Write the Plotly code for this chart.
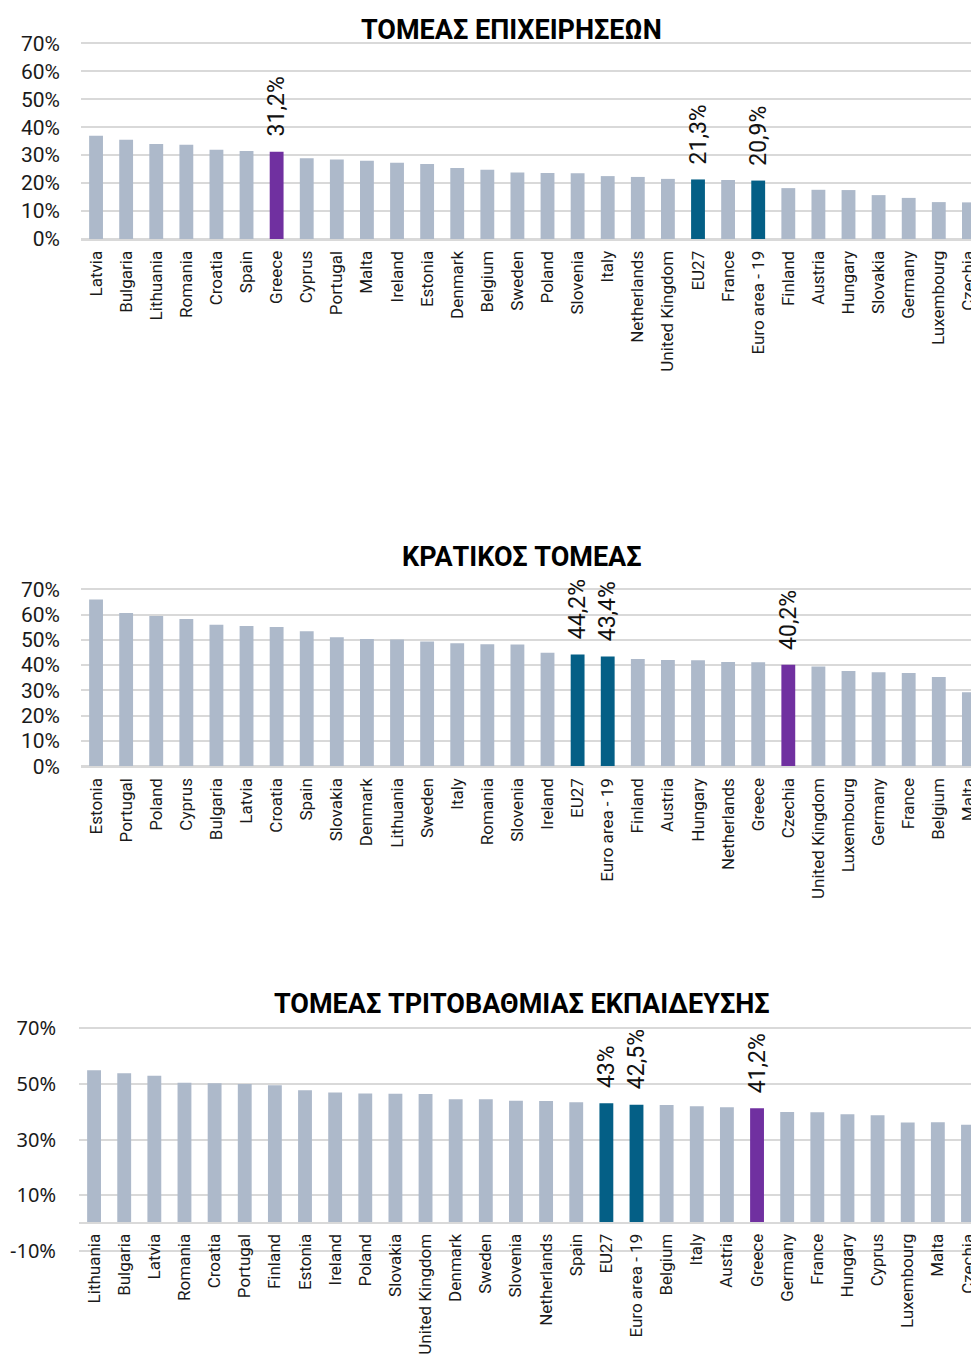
import plotly.graph_objects as go

# ---------------- data ----------------
titles = ["ΤΟΜΕΑΣ ΕΠΙΧΕΙΡΗΣΕΩΝ", "ΚΡΑΤΙΚΟΣ ΤΟΜΕΑΣ", "ΤΟΜΕΑΣ ΤΡΙΤΟΒΑΘΜΙΑΣ ΕΚΠΑΙΔΕΥΣΗΣ"]

business_countries = ["Latvia", "Bulgaria", "Lithuania", "Romania", "Croatia", "Spain", "Greece",
                      "Cyprus", "Portugal", "Malta", "Ireland", "Estonia", "Denmark", "Belgium",
                      "Sweden", "Poland", "Slovenia", "Italy", "Netherlands", "United Kingdom",
                      "EU27", "France", "Euro area - 19", "Finland", "Austria", "Hungary",
                      "Slovakia", "Germany", "Luxembourg", "Czechia"]
business_values = [36.9, 35.5, 34.0, 33.7, 31.9, 31.5, 31.2, 28.9, 28.4, 28.0, 27.3, 26.8, 25.4, 24.8,
                   23.8, 23.6, 23.5, 22.5, 22.2, 21.5, 21.3, 21.1, 20.9, 18.2, 17.6, 17.5, 15.7,
                   14.7, 13.2, 13.1]
business_purple = ["Greece"]

government_countries = ["Estonia", "Portugal", "Poland", "Cyprus", "Bulgaria", "Latvia", "Croatia",
                        "Spain", "Slovakia", "Denmark", "Lithuania", "Sweden", "Italy", "Romania",
                        "Slovenia", "Ireland", "EU27", "Euro area - 19", "Finland", "Austria",
                        "Hungary", "Netherlands", "Greece", "Czechia", "United Kingdom",
                        "Luxembourg", "Germany", "France", "Belgium", "Malta"]
government_values = [66.0, 60.6, 59.4, 58.2, 56.0, 55.5, 55.1, 53.4, 51.0, 50.3, 50.1, 49.3, 48.7,
                     48.3, 48.2, 44.9, 44.2, 43.4, 42.4, 42.0, 41.9, 41.2, 41.1, 40.2, 39.5, 37.7,
                     37.2, 36.9, 35.3, 29.3]
government_purple = ["Czechia"]

higher_ed_countries = ["Lithuania", "Bulgaria", "Latvia", "Romania", "Croatia", "Portugal", "Finland",
                       "Estonia", "Ireland", "Poland", "Slovakia", "United Kingdom", "Denmark",
                       "Sweden", "Slovenia", "Netherlands", "Spain", "EU27", "Euro area - 19",
                       "Belgium", "Italy", "Austria", "Greece", "Germany", "France", "Hungary",
                       "Cyprus", "Luxembourg", "Malta", "Czechia"]
higher_ed_values = [54.8, 53.8, 52.9, 50.4, 50.2, 49.9, 49.5, 47.7, 46.9, 46.5, 46.4, 46.3, 44.4,
                    44.4, 43.9, 43.8, 43.4, 43.0, 42.5, 42.4, 41.9, 41.6, 41.2, 39.9, 39.8, 39.1,
                    38.7, 36.1, 36.2, 35.3]
higher_ed_purple = ["Greece"]

blue_highlight = ["EU27", "Euro area - 19"]

y_ticks_top = [0, 10, 20, 30, 40, 50, 60, 70]
y_ticktext_top = ["0%", "10%", "20%", "30%", "40%", "50%", "60%", "70%"]
y_ticks_bottom = [-10, 10, 30, 50, 70]
y_ticktext_bottom = ["-10%", "10%", "30%", "50%", "70%"]

# ---------------- style ----------------
GREY = "#ADB9CA"
PURPLE = "#7030A0"
BLUE = "#045F86"
GRID = "#D9D9D9"
W, H = 971, 1354


def py(px):
    return 1 - px / H


def colors_for(cats, purple):
    out = []
    for c in cats:
        if c in purple:
            out.append(PURPLE)
        elif c in blue_highlight:
            out.append(BLUE)
        else:
            out.append(GREY)
    return out


def fmt(v):
    return f"{v:g}".replace(".", ",") + "%"


panels = [
    dict(cats=business_countries, vals=business_values, purple=business_purple,
         xdom=[81 / W, 1], ydom=[py(239), py(41.9)], yrange=[0, 70.5],
         xrange=[-0.5, 29.07], title_x=511.5, title_y=30),
    dict(cats=government_countries, vals=government_values, purple=government_purple,
         xdom=[81 / W, 1], ydom=[py(766.3), py(588.0)], yrange=[0, 70.5],
         xrange=[-0.5, 29.07], title_x=521.5, title_y=557),
    dict(cats=higher_ed_countries, vals=higher_ed_values, purple=higher_ed_purple,
         xdom=[79 / W, 1], ydom=[py(1252.4), py(1026.6)], yrange=[-10.5, 70.5],
         xrange=[-0.5, 29.10], title_x=522, title_y=1004),
]

fig = go.Figure()
annotations = []
layout = {}

for i, p in enumerate(panels, start=1):
    xa = "x" if i == 1 else f"x{i}"
    ya = "y" if i == 1 else f"y{i}"
    xkey = "xaxis" if i == 1 else f"xaxis{i}"
    ykey = "yaxis" if i == 1 else f"yaxis{i}"
    cols = colors_for(p["cats"], p["purple"])
    fig.add_trace(go.Bar(x=p["cats"], y=p["vals"], xaxis=xa, yaxis=ya,
                         marker=dict(color=cols, line=dict(width=0)),
                         width=0.46, showlegend=False, hoverinfo="x+y"))
    # data labels for highlighted bars
    for c, v in zip(p["cats"], p["vals"]):
        if c in p["purple"] or c in blue_highlight:
            annotations.append(dict(x=c, y=v, xref=xa, yref=ya, text=fmt(v),
                                    textangle=-90, showarrow=False, yanchor="bottom",
                                    xanchor="center", yshift=13,
                                    font=dict(family="Roboto", size=23, color="#111111")))
    annotations.append(dict(x=p["title_x"] / W, y=py(p["title_y"]), xref="paper", yref="paper",
                            text=titles[i - 1], showarrow=False, xanchor="center",
                            yanchor="middle",
                            font=dict(family="Roboto", size=27, color="#000000", weight="bold")))

    xaxis = dict(domain=p["xdom"], range=p["xrange"], type="category", anchor=ya,
                 tickangle=-90, showgrid=False, showline=True, linecolor=GRID, linewidth=2,
                 ticks="", ticklabelstandoff=3, automargin=False,
                 tickfont=dict(family="Roboto", size=17, color="#1a1a1a"), fixedrange=True)
    if i == 3:
        xaxis.update(anchor="free", position=py(1223))
        yaxis = dict(domain=p["ydom"], range=p["yrange"], anchor=xa,
                     tickvals=y_ticks_bottom, ticktext=y_ticktext_bottom,
                     showgrid=True, gridcolor=GRID, gridwidth=2,
                     zeroline=True, zerolinecolor=GRID, zerolinewidth=2,
                     showline=False, ticks="", ticklabelstandoff=22, automargin=False,
                     tickfont=dict(family="Noto Sans", size=20, color="#1a1a1a"), fixedrange=True)
    else:
        yaxis = dict(domain=p["ydom"], range=p["yrange"], anchor=xa,
                     tickvals=y_ticks_top, ticktext=y_ticktext_top,
                     showgrid=True, gridcolor=GRID, gridwidth=2,
                     zeroline=True, zerolinecolor=GRID, zerolinewidth=2,
                     showline=False, ticks="", ticklabelstandoff=20, automargin=False,
                     tickfont=dict(family="Roboto", size=21, color="#1a1a1a"), fixedrange=True)
    layout[xkey] = xaxis
    layout[ykey] = yaxis

fig.update_layout(**layout)
fig.update_layout(width=W, height=H, margin=dict(l=0, r=0, t=0, b=0, pad=0),
                  template="none", paper_bgcolor="white", plot_bgcolor="white",
                  annotations=annotations, showlegend=False, bargap=0.54)

fig.write_html("out.html", config={"displayModeBar": False},
               post_script="document.body.style.margin='0px';document.body.style.overflow='hidden';")
